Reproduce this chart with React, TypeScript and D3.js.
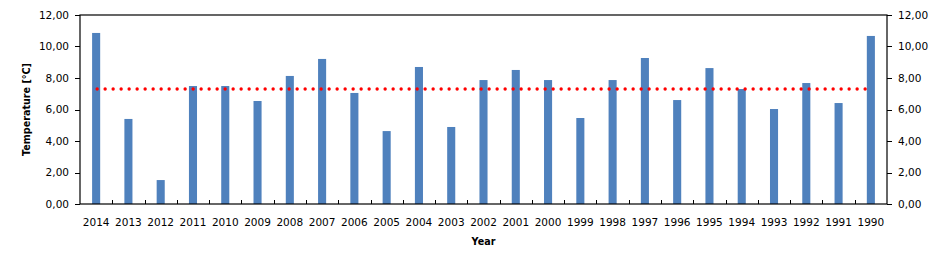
import React from "react";
import * as d3 from "d3";

const years = ["2014","2013","2012","2011","2010","2009","2008","2007","2006","2005","2004","2003","2002","2001","2000","1999","1998","1997","1996","1995","1994","1993","1992","1991","1990"];
const temps = [10.86,5.40,1.52,7.49,7.49,6.54,8.13,9.21,7.05,4.63,8.70,4.89,7.87,8.51,7.87,5.46,7.87,9.27,6.60,8.63,7.30,6.03,7.68,6.41,10.67];
const meanTemp = [7.30];
const yTicks = [0, 2, 4, 6, 8, 10, 12];
const yTitle = "Temperature [°C]";
const xTitle = "Year";

const W = 940, H = 267;
const L = 80, R = 887, T = 15, B = 204;
const font = "'DejaVu Sans', Verdana, sans-serif";

export default function App() {
  const x = d3.scaleBand<string>().domain(years).range([L, R]).paddingInner(0.75).paddingOuter(0.375);
  const y = d3.scaleLinear().domain([0, 12]).range([B, T]);
  const step = x.step();
  const bw = x.bandwidth();
  const fmt = (v: number) => v.toFixed(2).replace(".", ",");
  const c0 = (x(years[0]) as number) + bw / 2;
  const c1 = (x(years[years.length - 1]) as number) + bw / 2;
  return (
    <svg width={W} height={H} style={{ position: "absolute", left: 0, top: 0, background: "#fff" }}>
      {temps.map((v, i) => (
        <rect key={i} x={x(years[i])} y={y(v)} width={bw} height={B - y(v)} fill="#4F81BD" />
      ))}
      {meanTemp.map((m, i) => (
        <line key={i} x1={c0 + 1} x2={c1} y1={y(m)} y2={y(m)} stroke="#FF0000" strokeWidth={3.4}
          strokeLinecap="round" strokeDasharray="0 8" />
      ))}
      <rect x={L} y={T} width={R - L} height={B - T} fill="none" stroke="#000" strokeWidth={1.2} />
      {years.slice(0, -1).map((d, i) => {
        const bx = Math.round((x(d) as number) + bw / 2 + step / 2) + 0.5;
        return <line key={i} x1={bx} x2={bx} y1={B} y2={B - 4} stroke="#000" />;
      })}
      {yTicks.map((t) => (
        <g key={t}>
          <line x1={L - 5} x2={L} y1={Math.round(y(t)) + 0.5} y2={Math.round(y(t)) + 0.5} stroke="#000" />
          <line x1={R} x2={R + 5} y1={Math.round(y(t)) + 0.5} y2={Math.round(y(t)) + 0.5} stroke="#000" />
          <text x={69} y={y(t)} dy="0.36em" textAnchor="end" fontFamily={font} fontSize={10.5} fill="#000">{fmt(t)}</text>
          <text x={898} y={y(t)} dy="0.36em" textAnchor="start" fontFamily={font} fontSize={10.5} fill="#000">{fmt(t)}</text>
        </g>
      ))}
      {years.map((d) => (
        <text key={d} x={(x(d) as number) + bw / 2} y={222} dy="0.36em" textAnchor="middle" fontFamily={font} fontSize={10.5} fill="#000">{d}</text>
      ))}
      <text x={(L + R) / 2} y={242} dy="0.36em" textAnchor="middle" fontFamily={font} fontSize={9.6} fontWeight="bold" fill="#000">{xTitle}</text>
      <text transform={`translate(27,${(T + B) / 2}) rotate(-90)`} dy="0.36em" textAnchor="middle" fontFamily={font} fontSize={9.6} fontWeight="bold" fill="#000">{yTitle}</text>
    </svg>
  );
}
